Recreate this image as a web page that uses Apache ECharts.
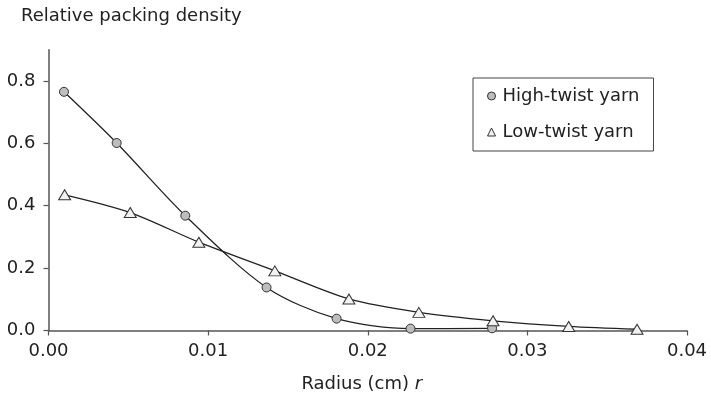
<!DOCTYPE html>
<html>
<head>
<meta charset="utf-8">
<script src="https://cdn.jsdelivr.net/npm/echarts@6/dist/echarts.min.js"></script>
<style>html,body{margin:0;padding:0;background:#fff}#c{width:711px;height:406px}</style>
</head>
<body>
<div id="c"></div>
<script>
const highTwistX = [0.00097, 0.00427, 0.00857, 0.01366, 0.01805, 0.02268, 0.02779];
const highTwistY = [0.765, 0.601, 0.368, 0.138, 0.038, 0.006, 0.007];
const lowTwistX = [0.00101, 0.00512, 0.00942, 0.01418, 0.01882, 0.0232, 0.02785, 0.03259, 0.03687];
const lowTwistY = [0.435, 0.378, 0.283, 0.191, 0.101, 0.058, 0.031, 0.013, 0.004];
const xTicks = [0, 0.01, 0.02, 0.03, 0.04];
const yTicks = [0, 0.2, 0.4, 0.6, 0.8];
const seriesNames = ['High-twist yarn', 'Low-twist yarn'];

const FONT = '"DejaVu Sans", Verdana, sans-serif';
const FS = 18;
const TXT = '#222';
const chart = echarts.init(document.getElementById('c'), null, {renderer: 'canvas'});
const zip = (xs, ys) => xs.map((x, i) => [x, ys[i]]);

chart.setOption({
  animation: false,
  backgroundColor: '#fff',
  textStyle: {fontFamily: FONT},
  title: {
    text: 'Relative packing density',
    left: 21, top: 7, padding: 0,
    textStyle: {fontFamily: FONT, fontSize: FS, fontWeight: 'normal', color: TXT}
  },
  grid: {left: 48.5, right: 24, top: 49.7, bottom: 75.5, containLabel: false},
  legend: {
    data: [
      {name: seriesNames[0], icon: 'circle', itemStyle: {color: '#bdbdbd', borderColor: '#333', borderWidth: 1}},
      {name: seriesNames[1], icon: 'triangle', itemStyle: {color: '#f2f2f2', borderColor: '#333', borderWidth: 1}}
    ],
    orient: 'vertical',
    left: 473, top: 78,
    padding: [7, 14, 8, 14],
    itemWidth: 8, itemHeight: 8,
    itemGap: 14,
    borderColor: '#444', borderWidth: 1,
    textStyle: {fontFamily: FONT, fontSize: FS, color: TXT, lineHeight: 22, padding: [0, 0, 0, 2]}
  },
  xAxis: {
    type: 'value', min: 0, max: 0.04, interval: 0.01,
    name: 'Radius (cm) {i|r}',
    nameLocation: 'middle', nameGap: 45,
    nameTextStyle: {fontFamily: FONT, fontSize: FS, color: TXT, padding: [0, 12, 0, 0],
      rich: {i: {fontStyle: 'italic', fontFamily: FONT, fontSize: FS, color: TXT}}},
    axisLine: {show: true, onZero: false, lineStyle: {color: '#555', width: 1.5}},
    axisTick: {show: true, inside: false, length: 5, lineStyle: {color: '#555', width: 1.2}, customValues: xTicks},
    axisLabel: {margin: 12, fontSize: FS, color: TXT, fontFamily: FONT, customValues: xTicks,
      formatter: v => v.toFixed(2)},
    splitLine: {show: false}
  },
  yAxis: {
    type: 'value', min: 0, max: 0.9, interval: 0.1,
    axisLine: {show: true, lineStyle: {color: '#555', width: 1.5}},
    axisTick: {show: true, inside: false, length: 5, lineStyle: {color: '#555', width: 1.2}, customValues: yTicks},
    axisLabel: {margin: 13, fontSize: FS, color: TXT, fontFamily: FONT, customValues: yTicks,
      formatter: v => v.toFixed(1)},
    splitLine: {show: false}
  },
  series: [
    {
      name: seriesNames[0], type: 'line', smooth: 0.3,
      data: zip(highTwistX, highTwistY),
      symbol: 'circle', symbolSize: 9,
      lineStyle: {color: '#222', width: 1.3},
      itemStyle: {color: '#bdbdbd', borderColor: '#333', borderWidth: 1}
    },
    {
      name: seriesNames[1], type: 'line', smooth: 0.3,
      data: zip(lowTwistX, lowTwistY),
      symbol: 'triangle', symbolSize: [12, 10],
      lineStyle: {color: '#222', width: 1.3},
      itemStyle: {color: '#f2f2f2', borderColor: '#333', borderWidth: 1}
    }
  ]
});
</script>
</body>
</html>
